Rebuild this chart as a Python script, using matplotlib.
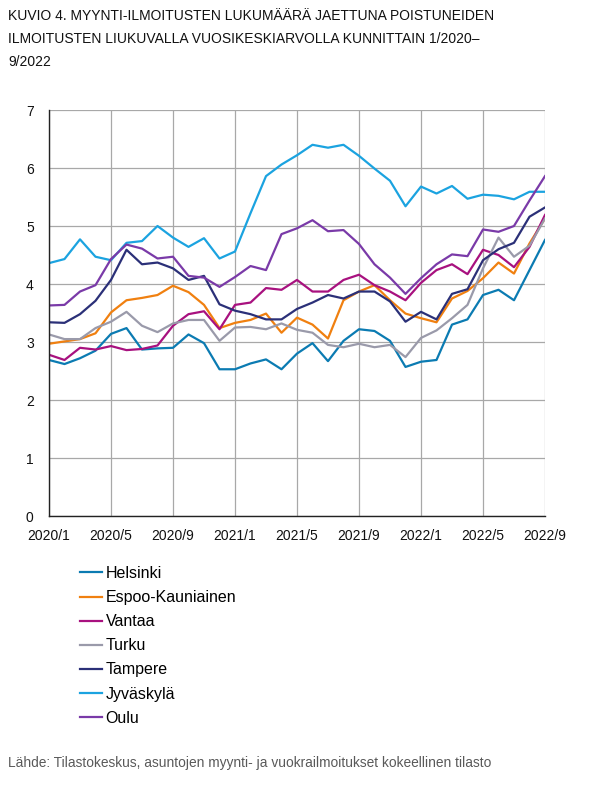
import matplotlib
matplotlib.use('Agg')
import matplotlib.pyplot as plt
import numpy as np

plt.rcParams['font.family'] = ['Liberation Sans', 'DejaVu Sans']

months = [f'{y}/{m}' for y in (2020, 2021, 2022) for m in range(1, 13)][:33]
tick_labels = months[::4]

helsinki = [2.69, 2.62, 2.72, 2.85, 3.14, 3.24, 2.87, 2.89, 2.90, 3.13, 2.98, 2.53, 2.53,
            2.63, 2.70, 2.53, 2.80, 2.98, 2.67, 3.02, 3.22, 3.19, 3.02, 2.57, 2.66,
            2.69, 3.30, 3.39, 3.81, 3.90, 3.72, 4.24, 4.76]
espoo = [2.97, 3.01, 3.05, 3.15, 3.51, 3.72, 3.76, 3.81, 3.97, 3.86, 3.64, 3.24, 3.33,
         3.38, 3.49, 3.16, 3.42, 3.30, 3.06, 3.72, 3.87, 3.98, 3.72, 3.49, 3.41,
         3.34, 3.75, 3.88, 4.10, 4.37, 4.18, 4.70, 5.13]
vantaa = [2.78, 2.69, 2.90, 2.87, 2.93, 2.86, 2.88, 2.94, 3.28, 3.48, 3.53, 3.22, 3.64,
          3.68, 3.93, 3.90, 4.07, 3.87, 3.87, 4.07, 4.16, 3.98, 3.87, 3.72, 4.02,
          4.24, 4.34, 4.17, 4.59, 4.50, 4.29, 4.64, 5.19]
turku = [3.13, 3.05, 3.05, 3.24, 3.35, 3.52, 3.28, 3.17, 3.32, 3.38, 3.38, 3.02, 3.25,
         3.26, 3.22, 3.32, 3.21, 3.16, 2.95, 2.91, 2.97, 2.91, 2.95, 2.74, 3.07,
         3.20, 3.41, 3.64, 4.27, 4.80, 4.47, 4.66, 5.13]
tampere = [3.34, 3.33, 3.48, 3.71, 4.07, 4.59, 4.34, 4.37, 4.27, 4.07, 4.14, 3.65, 3.54,
           3.48, 3.39, 3.39, 3.57, 3.68, 3.81, 3.75, 3.87, 3.87, 3.70, 3.35, 3.52,
           3.39, 3.83, 3.91, 4.41, 4.60, 4.71, 5.16, 5.32]
jyvaskyla = [4.36, 4.43, 4.77, 4.47, 4.41, 4.71, 4.74, 5.00, 4.80, 4.64, 4.79, 4.44, 4.56,
             5.22, 5.86, 6.06, 6.22, 6.40, 6.35, 6.40, 6.21, 5.99, 5.78, 5.34, 5.68,
             5.56, 5.69, 5.47, 5.54, 5.52, 5.46, 5.59, 5.59]
oulu = [3.63, 3.64, 3.87, 3.98, 4.43, 4.68, 4.61, 4.44, 4.47, 4.14, 4.11, 3.95, 4.12,
        4.31, 4.24, 4.86, 4.96, 5.10, 4.91, 4.93, 4.69, 4.34, 4.11, 3.83, 4.10,
        4.34, 4.51, 4.48, 4.94, 4.90, 5.00, 5.44, 5.86]

series = [('Helsinki', helsinki, '#0b7bb2'),
          ('Espoo-Kauniainen', espoo, '#f08010'),
          ('Vantaa', vantaa, '#a8117f'),
          ('Turku', turku, '#9a9aaa'),
          ('Tampere', tampere, '#2b3078'),
          ('Jyväskylä', jyvaskyla, '#1ba3e0'),
          ('Oulu', oulu, '#7a3aa8')]

fig = plt.figure(figsize=(6.02, 7.86), dpi=100)
ax = fig.add_axes([49/602, 1-516/786, 496/602, 406/786])

x = np.arange(len(months))
handles = []
for name, vals, col in series:
    h, = ax.plot(x, vals, color=col, lw=1.6, label=name, zorder=3)
    handles.append(h)

ax.set_xlim(0, len(months)-1)
ax.set_ylim(0, 7)
ax.set_xticks(x[::4])
ax.set_xticklabels(tick_labels, fontsize=10, color='#111111')
ax.set_yticks(range(8))
ax.set_yticklabels([str(i) for i in range(8)], fontsize=10, color='#111111')
ax.tick_params(axis='x', length=0, pad=9)
ax.tick_params(axis='y', length=0, pad=11)
ax.grid(True, color='#a8a8a8', lw=0.9)
for s in ['top', 'right']:
    ax.spines[s].set_visible(False)
for s in ['left', 'bottom']:
    ax.spines[s].set_color('#222222')
    ax.spines[s].set_linewidth(1.0)
    ax.spines[s].set_zorder(4)

fig.legend(handles=handles, loc='upper left', bbox_to_anchor=(80/602, 1-566/786),
           frameon=False, fontsize=11.5, handlelength=1.4, handletextpad=0.2,
           labelspacing=0.57, borderaxespad=0, borderpad=0)

fig.text(8/602, 1-9/786, 'KUVIO 4. MYYNTI-ILMOITUSTEN LUKUMÄÄRÄ JAETTUNA POISTUNEIDEN\n'
         'ILMOITUSTEN LIUKUVALLA VUOSIKESKIARVOLLA KUNNITTAIN 1/2020–\n9/2022',
         fontsize=10.0, va='top', ha='left', linespacing=1.82, color='#111111')
fig.text(8/602, 1-763/786, 'Lähde: Tilastokeskus, asuntojen myynti- ja vuokrailmoitukset kokeellinen tilasto',
         fontsize=9.95, va='center', ha='left', color='#595959')

fig.savefig('out.png', dpi=100)
